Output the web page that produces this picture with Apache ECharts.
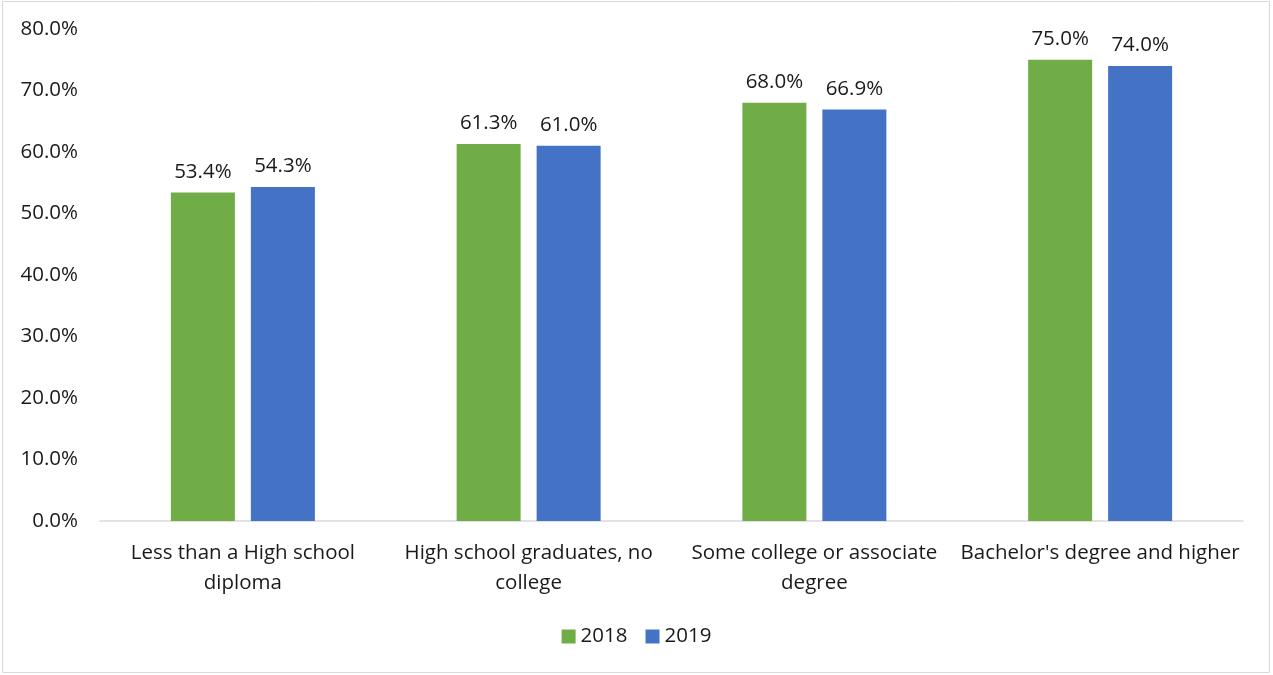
<!DOCTYPE html>
<html>
<head>
<meta charset="utf-8">
<script src="https://cdn.jsdelivr.net/npm/echarts@6/dist/echarts.min.js"></script>
<style>
  html, body { margin: 0; padding: 0; background: #fff; }
  #chart { width: 1273px; height: 675px; }
</style>
</head>
<body>
<div id="chart"></div>
<script>
// Employment rate by educational attainment
const categories = [
  'Less than a High school\ndiploma',
  'High school graduates, no\ncollege',
  'Some college or associate\ndegree',
  "Bachelor's degree and higher"
];
const values2018 = [53.4, 61.3, 68.0, 75.0];
const values2019 = [54.3, 61.0, 66.9, 74.0];
const seriesNames = ['2018', '2019'];

const font = 'Open Sans, Noto Sans, sans-serif';
const textColor = '#1a1a1a';
const fs = 20.5;

const chart = echarts.init(document.getElementById('chart'), null, { renderer: 'canvas' });

const labelStyle = {
  show: true,
  position: 'top',
  distance: 10,
  fontFamily: font,
  fontSize: fs,
  color: textColor,
  formatter: p => p.value.toFixed(1) + '%'
};

chart.setOption({
  backgroundColor: '#fff',
  animation: false,
  graphic: [{
    type: 'rect',
    shape: { x: 2.5, y: 1.5, width: 1267, height: 671 },
    style: { fill: 'none', stroke: '#d9d9d9', lineWidth: 1 },
    silent: true
  }],
  grid: { left: 100, right: 30, top: 29, bottom: 154 },
  legend: {
    data: seriesNames,
    bottom: 23,
    left: 'center',
    icon: 'rect',
    itemWidth: 14,
    itemHeight: 14,
    itemGap: 18,
    textStyle: { fontFamily: font, fontSize: fs, color: textColor }
  },
  xAxis: {
    type: 'category',
    data: categories,
    axisLine: { lineStyle: { color: '#d9d9d9', width: 1.5 } },
    axisTick: { show: false },
    axisLabel: {
      fontFamily: font,
      fontSize: fs,
      color: textColor,
      lineHeight: 30,
      margin: 17,
      interval: 0
    }
  },
  yAxis: {
    type: 'value',
    min: 0,
    max: 80,
    interval: 10,
    axisLine: { show: false },
    axisTick: { show: false },
    splitLine: { show: false },
    axisLabel: {
      fontFamily: font,
      fontSize: fs,
      color: textColor,
      margin: 22,
      padding: [4, 0, 0, 0],
      formatter: v => v.toFixed(1) + '%'
    }
  },
  series: [
    {
      name: seriesNames[0],
      type: 'bar',
      data: values2018,
      barWidth: 64,
      barGap: '25%',
      itemStyle: { color: '#70ad47' },
      label: labelStyle
    },
    {
      name: seriesNames[1],
      type: 'bar',
      data: values2019,
      barWidth: 64,
      barGap: '25%',
      itemStyle: { color: '#4472c4' },
      label: labelStyle
    }
  ]
});
</script>
</body>
</html>
